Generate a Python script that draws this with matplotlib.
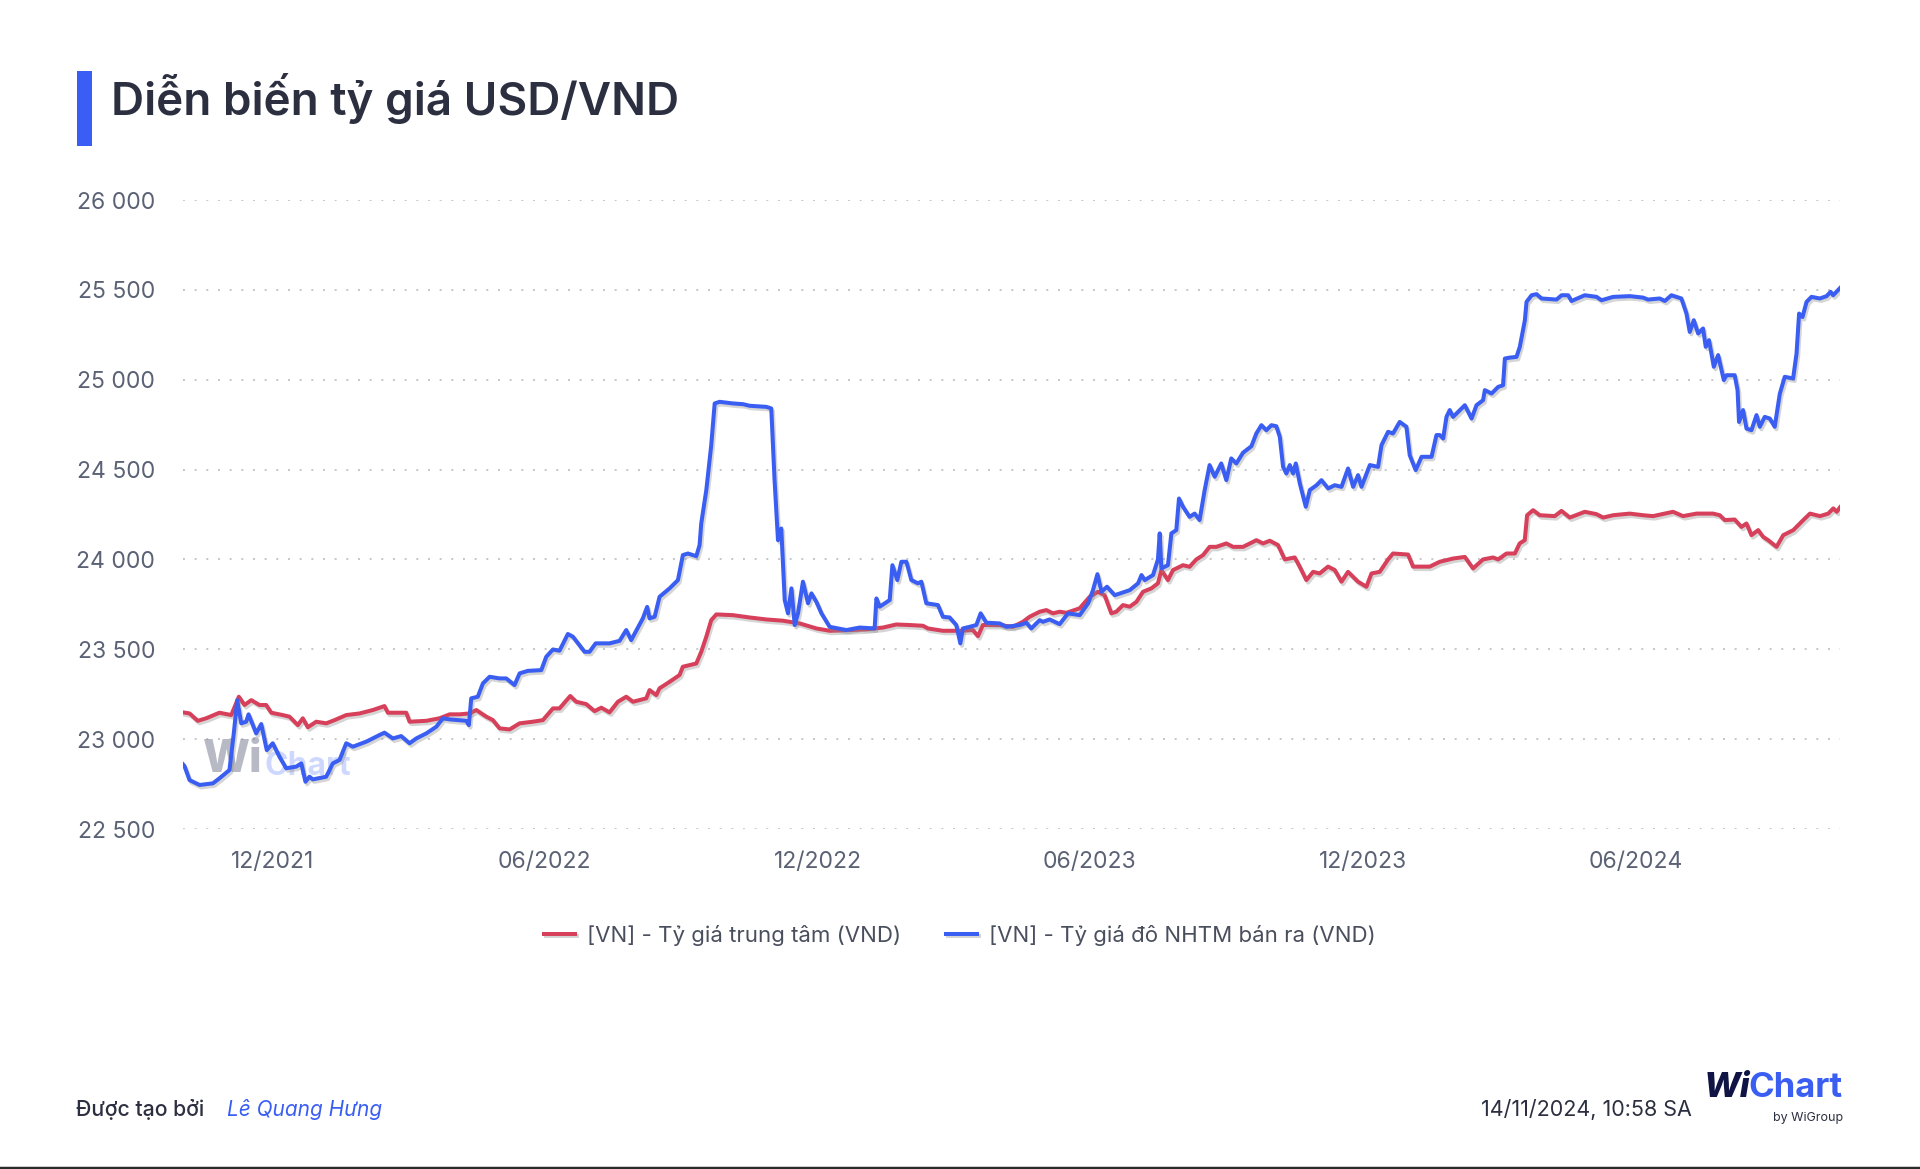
import numpy as np
import pandas as pd
import matplotlib
matplotlib.use('Agg')
import matplotlib.pyplot as plt
import matplotlib.dates as mdates
import matplotlib.patheffects as pe
from matplotlib.patches import Rectangle
from matplotlib.lines import Line2D

plt.rcParams['font.family'] = ['Inter', 'DejaVu Sans']

# days counted from the start date
start = pd.Timestamp('2021-10-01')

red_days = [1.0, 5.4, 10.9, 16.5, 25.4, 33.3, 38.4, 42.2, 46.7, 52.2, 56.7, 60.1, 67.8, 72.3, 77.9, 81.2,
            84.6, 90.2, 96.9, 102.5, 110.3, 119.2, 128.1, 135.9, 138.2, 150.5, 152.7, 163.9, 172.8, 179.5,
            186.2, 192.9, 197.4, 204.1, 208.5, 213.0, 219.7, 226.4, 235.3, 242.0, 248.7, 253.1, 260.3, 264.3,
            271.0, 276.6, 281.1, 286.6, 292.2, 297.8, 302.3, 311.2, 313.4, 317.9, 320.1, 326.8, 333.5, 335.7,
            344.7, 348.0, 351.4, 354.7, 358.1, 369.2, 380.4, 391.6, 402.7, 413.9, 425.1, 434.0, 447.3, 458.5,
            469.7, 478.6, 487.5, 496.4, 499.8, 509.8, 521.0, 529.9, 533.3, 536.6, 547.8, 556.7, 563.4, 567.9,
            574.6, 579.1, 583.5, 588.0, 592.5, 601.4, 608.1, 613.6, 618.1, 622.6, 625.9, 630.4, 634.9, 639.4,
            643.8, 649.4, 653.8, 656.1, 660.5, 663.9, 670.6, 675.0, 679.5, 684.0, 688.4, 692.9, 699.6, 704.1,
            710.8, 719.7, 724.2, 728.7, 734.2, 738.7, 745.4, 748.7, 753.2, 757.7, 762.1, 767.7, 772.2, 776.7,
            781.1, 787.8, 793.4, 796.8, 802.3, 807.9, 811.2, 821.3, 824.6, 835.8, 842.5, 851.4, 859.3, 864.8,
            871.5, 878.2, 881.6, 887.2, 892.8, 896.0, 899.4, 901.0, 905.0, 909.5, 919.5, 924.0, 929.6, 939.6,
            947.4, 951.9, 958.6, 969.7, 978.6, 985.3, 998.7, 1005.4, 1014.4, 1025.5, 1030.0, 1033.3, 1040.0,
            1044.5, 1047.9, 1051.2, 1055.7, 1059.0, 1062.4, 1068.0, 1072.5, 1079.2, 1085.9, 1090.4, 1097.1,
            1102.6, 1106.0, 1108.3, 1110.5]
red_vals = [23149, 23143, 23102, 23116, 23147, 23134, 23236, 23190, 23217, 23190, 23190, 23147, 23134, 23125,
            23078, 23116, 23066, 23097, 23088, 23106, 23134, 23143, 23162, 23184, 23147, 23147, 23097, 23102,
            23116, 23138, 23138, 23143, 23162, 23125, 23106, 23060, 23054, 23088, 23097, 23106, 23171, 23171,
            23240, 23208, 23195, 23156, 23175, 23149, 23208, 23236, 23208, 23227, 23273, 23245, 23283, 23319,
            23357, 23403, 23421, 23486, 23570, 23662, 23694, 23690, 23677, 23666, 23659, 23644, 23616, 23603,
            23607, 23611, 23621, 23638, 23635, 23631, 23616, 23603, 23603, 23607, 23573, 23635, 23635, 23625,
            23653, 23681, 23709, 23718, 23700, 23709, 23703, 23728, 23792, 23820, 23801, 23700, 23709, 23746,
            23737, 23764, 23820, 23839, 23867, 23941, 23885, 23941, 23968, 23959, 24000, 24024, 24070, 24070,
            24089, 24070, 24070, 24107, 24089, 24104, 24080, 24000, 24011, 23960, 23885, 23931, 23922, 23960,
            23941, 23876, 23931, 23876, 23848, 23922, 23931, 24000, 24033, 24027, 23960, 23960, 23987, 24005,
            24014, 23950, 24000, 24011, 24000, 24033, 24033, 24089, 24107, 24246, 24274, 24246, 24241, 24270,
            24233, 24265, 24252, 24233, 24246, 24255, 24246, 24241, 24265, 24241, 24255, 24255, 24246, 24219,
            24222, 24181, 24200, 24135, 24163, 24126, 24107, 24070, 24135, 24163, 24219, 24255, 24241, 24255,
            24284, 24265, 24290]

blue_days = [1.0, 2.0, 5.4, 12.1, 21.0, 25.4, 32.1, 35.0, 37.3, 40.0, 43.3, 44.9, 50.0, 53.4, 57.1, 61.1,
             65.6, 70.1, 76.8, 80.2, 83.0, 85.7, 87.9, 96.9, 101.3, 105.8, 110.3, 114.7, 123.7, 132.6, 135.9,
             141.5, 147.1, 152.7, 157.2, 163.9, 170.6, 175.0, 179.5, 190.7, 192.4, 194.0, 198.4, 201.8, 206.3,
             213.0, 217.4, 223.0, 226.4, 231.9, 240.9, 244.2, 248.7, 253.1, 258.7, 262.1, 269.9, 273.2, 277.3,
             286.6, 293.3, 297.8, 301.1, 308.9, 311.8, 313.4, 316.8, 320.1, 326.8, 332.4, 335.7, 339.1, 344.7,
             346.9, 348.0, 351.4, 354.7, 357.0, 360.3, 369.2, 375.9, 380.4, 391.6, 394.9, 397.1, 399.4, 401.6,
             403.9, 406.1, 408.4, 410.6, 412.8, 416.1, 419.5, 421.8, 425.1, 428.5, 434.0, 445.2, 454.1, 464.1,
             465.3, 467.5, 474.2, 476.0, 479.3, 482.0, 485.4, 488.7, 493.1, 495.4, 498.7, 506.5, 509.8, 514.3,
             518.8, 521.5, 523.2, 527.7, 532.2, 535.1, 538.9, 547.8, 552.3, 561.2, 565.7, 569.0, 574.6, 576.8,
             581.3, 588.0, 593.6, 601.4, 607.0, 610.3, 613.3, 616.0, 619.7, 624.9, 634.9, 640.5, 642.8, 645.0,
             650.5, 653.8, 655.0, 656.1, 660.5, 662.8, 666.1, 667.9, 670.6, 675.0, 678.4, 681.7, 685.1, 688.4,
             691.8, 696.2, 699.6, 702.9, 706.3, 710.8, 716.4, 719.7, 723.1, 726.4, 729.8, 733.1, 735.4, 737.6,
             739.8, 742.1, 744.3, 746.1, 748.8, 752.8, 755.5, 760.0, 763.3, 767.8, 772.2, 776.7, 781.1, 784.5,
             787.8, 790.1, 795.7, 801.2, 803.5, 807.9, 811.2, 815.7, 820.2, 822.4, 826.4, 830.3, 837.0, 840.3,
             842.5, 844.8, 847.0, 849.2, 851.4, 859.3, 863.8, 867.1, 871.5, 872.7, 877.2, 881.6, 884.9, 886.1,
             889.4, 893.9, 896.1, 899.5, 900.6, 904.0, 907.3, 910.7, 920.7, 924.1, 928.5, 930.7, 939.6, 947.5,
             950.8, 958.6, 969.8, 978.6, 982.0, 989.8, 993.2, 997.6, 1004.3, 1007.7, 1009.9, 1012.6, 1015.5,
             1018.8, 1020.6, 1022.8, 1026.0, 1028.9, 1032.7, 1034.5, 1040.0, 1041.9, 1042.9, 1045.6, 1047.9,
             1051.2, 1054.6, 1056.8, 1060.1, 1063.5, 1066.8, 1070.2, 1073.5, 1079.1, 1081.4, 1083.1, 1085.4,
             1088.1, 1091.4, 1097.0, 1101.5, 1104.2, 1105.9, 1110.5]
blue_vals = [22860, 22850, 22772, 22745, 22754, 22782, 22828, 23032, 23217, 23088, 23097, 23138, 23032, 23084,
             22939, 22977, 22902, 22838, 22847, 22865, 22763, 22791, 22776, 22791, 22865, 22884, 22977, 22958,
             22986, 23023, 23036, 23004, 23017, 22977, 23004, 23032, 23069, 23116, 23110, 23102, 23078, 23227,
             23236, 23310, 23347, 23338, 23338, 23301, 23366, 23380, 23384, 23458, 23499, 23492, 23585, 23570,
             23486, 23486, 23533, 23533, 23547, 23607, 23551, 23672, 23736, 23672, 23681, 23792, 23839, 23885,
             24024, 24033, 24018, 24080, 24200, 24386, 24636, 24868, 24877, 24868, 24864, 24855, 24849, 24840,
             24441, 24107, 24172, 23774, 23700, 23839, 23635, 23700, 23876, 23756, 23811, 23764, 23700, 23625,
             23607, 23621, 23616, 23783, 23737, 23774, 23968, 23885, 23987, 23987, 23885, 23867, 23876, 23756,
             23746, 23681, 23677, 23635, 23533, 23616, 23625, 23635, 23700, 23648, 23644, 23625, 23635, 23648,
             23616, 23662, 23653, 23666, 23640, 23700, 23690, 23755, 23829, 23918, 23820, 23848, 23801, 23829,
             23867, 23913, 23885, 23913, 24000, 24145, 23950, 23968, 24145, 24163, 24339, 24293, 24237, 24255,
             24219, 24386, 24525, 24460, 24534, 24441, 24562, 24534, 24594, 24630, 24701, 24747, 24719, 24747,
             24741, 24682, 24515, 24478, 24525, 24478, 24534, 24423, 24293, 24386, 24413, 24441, 24395, 24413,
             24404, 24506, 24404, 24469, 24404, 24525, 24515, 24636, 24710, 24701, 24765, 24738, 24580, 24497,
             24571, 24571, 24692, 24692, 24673, 24793, 24831, 24793, 24858, 24784, 24858, 24886, 24942, 24923,
             24960, 24969, 25118, 25123, 25127, 25183, 25331, 25433, 25470, 25476, 25452, 25446, 25470, 25470,
             25438, 25470, 25461, 25442, 25461, 25465, 25457, 25446, 25452, 25438, 25470, 25452, 25368, 25266,
             25331, 25257, 25285, 25183, 25220, 25072, 25137, 24998, 25025, 25025, 24942, 24765, 24831, 24728,
             24719, 24803, 24738, 24793, 24784, 24738, 24922, 25016, 25007, 25146, 25368, 25349, 25433, 25461,
             25452, 25465, 25489, 25470, 25510]

series_names = ['[VN] - Tỷ giá trung tâm (VND)', '[VN] - Tỷ giá đô NHTM bán ra (VND)']
y_ticks = [22500, 23000, 23500, 24000, 24500, 25000, 25500, 26000]
x_ticks = ['2021-12-01', '2022-06-01', '2022-12-01', '2023-06-01', '2023-12-01', '2024-06-01']

red_dates = start + pd.to_timedelta(red_days, unit='D')
blue_dates = start + pd.to_timedelta(blue_days, unit='D')

RED = '#d7405a'
BLUE = '#3a5ef2'
TXT = '#5b6275'

fig = plt.figure(figsize=(19.2, 11.69), dpi=100)
fig.patch.set_facecolor('white')
ax = fig.add_axes([183/1920, 1 - 829/1169, (1840 - 183)/1920, (829 - 200)/1169])

shadow = [pe.SimpleLineShadow(offset=(1.2, -1.8), shadow_color='#888888', alpha=0.35), pe.Normal()]
ax.plot(red_dates, red_vals, color=RED, lw=2.9, label=series_names[0], path_effects=shadow,
        solid_joinstyle='round', zorder=3)
ax.plot(blue_dates, blue_vals, color=BLUE, lw=2.9, label=series_names[1], path_effects=shadow,
        solid_joinstyle='round', zorder=4)

ax.set_xlim(red_dates[0], red_dates[-1])
ax.set_ylim(22500, 26000)
ax.set_yticks(y_ticks)
ax.set_yticklabels([f'{v:,}'.replace(',', ' ') for v in y_ticks])
ax.set_xticks(pd.to_datetime(x_ticks))
ax.xaxis.set_major_formatter(mdates.DateFormatter('%m/%Y'))
ax.tick_params(axis='both', length=0, labelsize=16.5, labelcolor=TXT)
ax.tick_params(axis='y', pad=20)
ax.tick_params(axis='x', pad=16)
ax.grid(axis='y', color='#c4c6cc', lw=1.4, linestyle=(0, (1, 5)))
ax.grid(axis='x', visible=False)
for s in ax.spines.values():
    s.set_visible(False)
ax.set_axisbelow(True)

# watermark
wm = ax.text(0.012, 0.11, 'Wi', transform=ax.transAxes, fontsize=32, fontweight='heavy',
             color='#7d8194', alpha=0.55, va='center', ha='left', zorder=2)
fig.canvas.draw()
wb = wm.get_window_extent().transformed(ax.transAxes.inverted())
ax.text(wb.x1 + 0.001, 0.1, 'Chart', transform=ax.transAxes, fontsize=23, fontweight='bold',
        color='#9fb2ff', alpha=0.5, va='center', ha='left', zorder=2)

# legend
fig.legend(loc='center', bbox_to_anchor=(0.5, 1 - 935/1169), ncol=2, frameon=False, fontsize=16,
           handlelength=1.4, handletextpad=0.55, columnspacing=2.0, labelcolor='#4a4f5e')

# title with accent bar
fig.add_artist(Rectangle((77/1920, 1 - 146/1169), 15/1920, 75/1169, transform=fig.transFigure,
                         color='#3a5ef5', lw=0))
fig.text(111/1920, 1 - 99/1169, 'Diễn biến tỷ giá USD/VND', fontsize=33, fontweight='semibold',
         color='#2b2f40', va='center', ha='left')

# footer
fig.text(76/1920, 1 - 1110/1169, 'Được tạo bởi', fontsize=15.3, fontweight='medium', color='#2b2f40',
         va='center', ha='left')
fig.text(227/1920, 1 - 1110/1169, 'Lê Quang Hưng', fontsize=15, style='italic', color='#3a5ef2',
         va='center', ha='left')
fig.text(1692/1920, 1 - 1110/1169, '14/11/2024, 10:58 SA', fontsize=15.5, color='#2b2f40',
         va='center', ha='right')

logo_chart = fig.text(1843/1920, 1 - 1097/1169, 'Chart', fontsize=25, fontweight='bold', color='#3a5ef2',
                      va='baseline', ha='right')
fig.canvas.draw()
bb = logo_chart.get_window_extent()
fig.text(bb.x0 / fig.bbox.width + 1/1920, 1 - 1097/1169, 'Wi', fontsize=25, fontweight='heavy',
         color='#0f1445', va='baseline', ha='right', style='italic')
fig.text(1843/1920, 1 - 1118/1169, 'by WiGroup', fontsize=9, color='#2b2f40', va='center', ha='right')

fig.add_artist(Line2D([0, 1], [1.5/1169, 1.5/1169], transform=fig.transFigure, color='#2b2b2b', lw=2.5))

fig.savefig('out.png', dpi=100, facecolor='white')
